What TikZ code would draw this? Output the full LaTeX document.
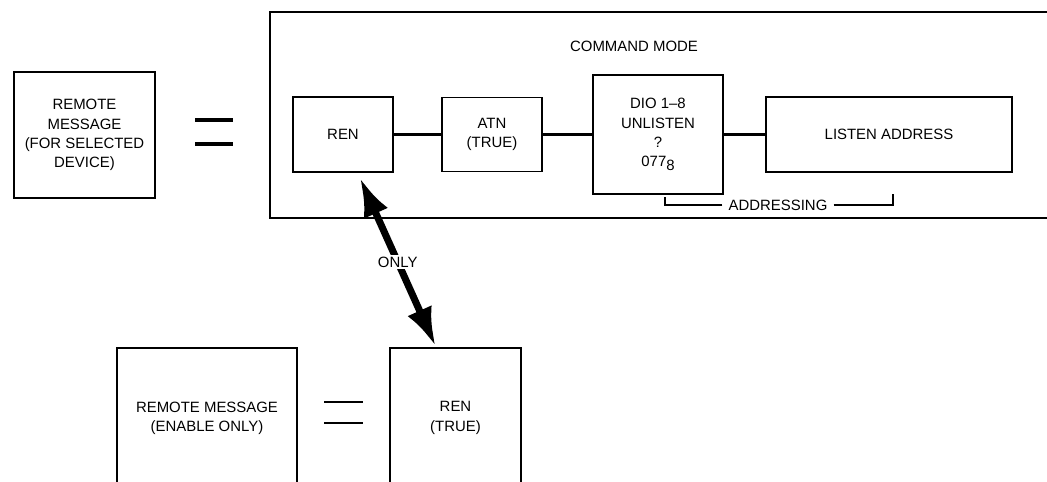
\documentclass[tikz,border=0pt]{standalone}
\usepackage{fontspec}
\setmainfont{Liberation Sans}
\usetikzlibrary{arrows.meta,calc}

\begin{document}
\begin{tikzpicture}[x=0.02cm,y=-0.02cm,
    every node/.style={font=\fontsize{8.5}{11}\selectfont,align=center},
    blk/.style={draw,line width=1.1pt,inner sep=0pt},
    link/.style={line width=2pt},
    eqbar/.style={line width=2.2pt},
    bigarrow/.style={line width=4pt,{Latex[length=22pt,width=15pt]}-{Latex[length=22pt,width=15pt]}}]
      \useasboundingbox (0,0) rectangle (1047,481);
      % remote message, selected device
      \node[blk,minimum width=2.82cm,minimum height=2.52cm] (msgsel) at (84.5,135) {REMOTE\\MESSAGE\\(FOR SELECTED\\DEVICE)};
      \draw[eqbar] (195,120) -- (233,120) (195,144) -- (233,144);
      % command mode frame
      \draw[line width=1.6pt] (1060,12) -- (270,12) -- (270,218) -- (1060,218);
      \node (cmdmode) at (634,46) {COMMAND MODE};
      \node[blk,minimum width=2cm,minimum height=1.5cm] (ren) at (343,134.5) {REN};
      \node[blk,minimum width=2cm,minimum height=1.48cm] (atn) at (492,134.5) {ATN\\(TRUE)};
      \node[blk,minimum width=2.6cm,minimum height=2.38cm] (dio) at (658,134.5) {DIO 1--8\\UNLISTEN\\?\\077\raisebox{-0.5ex}{8}};
      \node[blk,minimum width=4.92cm,minimum height=1.5cm] (listen) at (889,134.5) {LISTEN ADDRESS};
      \draw[link] (ren) -- (atn);
      \draw[link] (atn) -- (dio);
      \draw[link] (dio) -- (listen);
      % addressing bracket
      \node (addr) at (778,205) {ADDRESSING};
      \coordinate (addrl) at (665,197);
      \coordinate (addrr) at (893,194);
      \draw[line width=1pt] (addr.west) -| (addrl);
      \draw[line width=1pt] (addr.east) -| (addrr);
      % enable only
      \node[blk,minimum width=3.6cm,minimum height=2.8cm] (msgen) at (207,418) {REMOTE MESSAGE\\(ENABLE ONLY)};
      \draw[eqbar,line width=1.4pt] (324,402) -- (363,402) (324,423) -- (363,423);
      \node[blk,minimum width=2.62cm,minimum height=2.8cm] (rentrue) at (455.5,418) {REN\\(TRUE)};
      \draw[bigarrow] ([shift={(17,5)}]ren.south) -- node[fill=white,inner sep=1pt] {ONLY} ([shift={(-20,-1)}]rentrue.north);
    \end{tikzpicture}
\end{document}
